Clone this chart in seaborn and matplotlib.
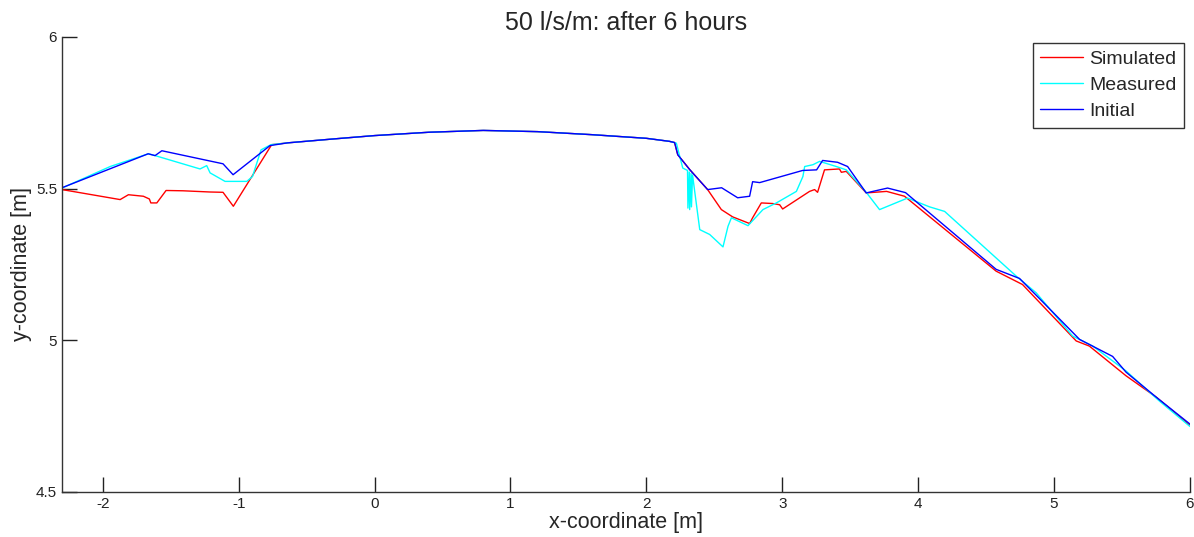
import numpy as np
import pandas as pd
import matplotlib
matplotlib.use("Agg")
import matplotlib.pyplot as plt
import seaborn as sns

# profile data
arc_x = [-0.64, -0.3, 0.0, 0.4, 0.8, 1.2, 1.6, 2.0, 2.17]
arc_y = [5.651, 5.664, 5.675, 5.686, 5.692, 5.688, 5.678, 5.666, 5.656]

init_x = [-2.30, -1.666, -1.615, -1.565, -1.115, -1.041, -0.769] + arc_x + [
    2.208, 2.231, 2.319, 2.451, 2.554, 2.672, 2.760, 2.782, 2.834, 3.150, 3.253,
    3.297, 3.407, 3.481, 3.618, 3.775, 3.907, 4.574, 4.746, 4.868, 5.188, 5.431,
    5.530, 5.751, 6.0]
init_y = [5.503, 5.615, 5.609, 5.625, 5.582, 5.546, 5.642] + arc_y + [
    5.652, 5.612, 5.563, 5.497, 5.503, 5.470, 5.475, 5.523, 5.520, 5.560, 5.562,
    5.593, 5.587, 5.573, 5.486, 5.502, 5.487, 5.234, 5.204, 5.149, 5.003, 4.947,
    4.895, 4.813, 4.724]

sim_x = [-2.30, -1.872, -1.811, -1.701, -1.657, -1.646, -1.602, -1.534, -1.409,
         -1.210, -1.115, -1.039, -0.757] + arc_x + [
    2.208, 2.231, 2.319, 2.451, 2.552, 2.635, 2.760, 2.782, 2.846, 2.929, 2.981,
    3.003, 3.201, 3.238, 3.260, 3.311, 3.421, 3.435, 3.471, 3.618, 3.768, 3.900,
    4.574, 4.768, 5.163, 5.260, 5.530, 5.751, 6.0]
sim_y = [5.497, 5.464, 5.480, 5.475, 5.466, 5.453, 5.453, 5.494, 5.493,
         5.489, 5.488, 5.442, 5.645] + arc_y + [
    5.652, 5.612, 5.563, 5.497, 5.431, 5.407, 5.385, 5.404, 5.453, 5.451, 5.447,
    5.433, 5.491, 5.497, 5.488, 5.562, 5.565, 5.554, 5.557, 5.486, 5.491, 5.475,
    5.228, 5.184, 4.998, 4.981, 4.883, 4.813, 4.720]

meas_x = [-2.30, -1.945, -1.664, -1.615, -1.284, -1.235, -1.210, -1.100, -0.940,
          -0.898, -0.835, -0.762] + arc_x + [
    2.221, 2.246, 2.268, 2.290, 2.303, 2.306, 2.316, 2.319, 2.329, 2.332, 2.340,
    2.393, 2.466, 2.564, 2.601, 2.626, 2.748, 2.858, 2.957, 3.104, 3.152, 3.165,
    3.226, 3.275, 3.398, 3.471, 3.618, 3.716, 3.922, 4.084, 4.195, 4.721, 4.868,
    5.137, 5.285, 5.530, 5.775, 6.0]
meas_y = [5.502, 5.573, 5.615, 5.609, 5.565, 5.576, 5.552, 5.524, 5.524,
          5.540, 5.628, 5.645] + arc_y + [
    5.650, 5.606, 5.568, 5.563, 5.560, 5.436, 5.555, 5.431, 5.550, 5.440, 5.545,
    5.365, 5.349, 5.308, 5.376, 5.404, 5.378, 5.431, 5.453, 5.491, 5.540, 5.573,
    5.579, 5.590, 5.573, 5.562, 5.488, 5.431, 5.469, 5.440, 5.425, 5.212, 5.157,
    5.014, 4.981, 4.899, 4.800, 4.716]

series = ["Simulated", "Measured", "Initial"]
colors = ["#ff0000", "#00ffff", "#0000ff"]

df = pd.concat([
    pd.DataFrame({"x": sim_x, "y": sim_y, "series": "Simulated"}),
    pd.DataFrame({"x": meas_x, "y": meas_y, "series": "Measured"}),
    pd.DataFrame({"x": init_x, "y": init_y, "series": "Initial"}),
], ignore_index=True)

sns.set_style("white")
plt.rcParams["font.family"] = ["Liberation Sans", "DejaVu Sans"]
plt.rcParams["axes.unicode_minus"] = False

fig = plt.figure(figsize=(11.94, 5.37), dpi=100)
ax = fig.add_axes([0.0519, 0.0838, 0.9447, 0.8473])

sns.lineplot(data=df, x="x", y="y", hue="series", hue_order=series,
             palette=dict(zip(series, colors)), sort=False, estimator=None,
             linewidth=1.0, ax=ax)

ax.set_xlim(-2.3, 6)
ax.set_ylim(4.5, 6)
ax.set_xticks([-2, -1, 0, 1, 2, 3, 4, 5, 6])
ax.set_yticks([4.5, 5, 5.5, 6])
ax.set_yticklabels(["4.5", "5", "5.5", "6"])
ax.tick_params(direction="in", length=11, width=1, labelsize=11, colors="#222222",
               bottom=True, left=True)
for s in ["top", "right"]:
    ax.spines[s].set_visible(False)
for s in ["left", "bottom"]:
    ax.spines[s].set_color("#333333")
    ax.spines[s].set_linewidth(1)

ax.set_title("50 l/s/m: after 6 hours", fontsize=18, pad=5)
ax.set_xlabel("x-coordinate [m]", fontsize=15.5, labelpad=1)
ax.set_ylabel("y-coordinate [m]", fontsize=15.5, labelpad=3)

leg = ax.legend(loc="upper right", fontsize=14, frameon=True, fancybox=False,
                edgecolor="black", handlelength=2.2, borderpad=0.4,
                labelspacing=0.42, handletextpad=0.3, borderaxespad=0.3)
leg.get_frame().set_linewidth(1)

fig.savefig("out.png", dpi=100)
